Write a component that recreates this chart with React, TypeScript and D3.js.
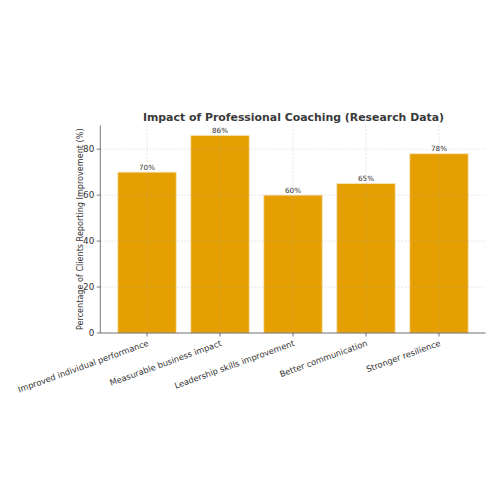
import React from "react";
import * as d3 from "d3";

const categories = [
  "Improved individual performance",
  "Measurable business impact",
  "Leadership skills improvement",
  "Better communication",
  "Stronger resilience",
];
const values = [70, 86, 60, 65, 78];
const yTicks = [0, 20, 40, 60, 80];
const title = "Impact of Professional Coaching (Research Data)";
const yLabel = "Percentage of Clients Reporting Improvement (%)";

export default function App() {
  const W = 500, H = 500;
  const left = 100.3, right = 485.7, top = 125.5, bottom = 333;
  const n = categories.length;
  const x = d3.scaleLinear().domain([-0.64, n - 1 + 0.64]).range([left, right]);
  const y = d3.scaleLinear().domain([0, 90.3]).range([bottom, top]);
  const bw = x(0.4) - x(-0.4);
  const font = "DejaVu Sans, sans-serif";
  const txt = "#333333";
  return (
    <svg width={W} height={H} style={{ position: "absolute", left: 0, top: 0, background: "#fff" }} fontFamily={font}>
      <rect x={0} y={0} width={W} height={H} fill="#fff" />
      {values.map((v, i) => (
        <rect key={i} x={x(i) - bw / 2} y={y(v)} width={bw} height={y(0) - y(v)} fill="#E69F00" stroke="#f7e3b8" strokeWidth={0.8} />
      ))}
      {/* grid */}
      {yTicks.map((t) => (
        <line key={"gy" + t} x1={left} x2={right} y1={y(t)} y2={y(t)} stroke="#b0b0b0" strokeOpacity={0.5} strokeWidth={0.6} strokeDasharray="2,1.5" />
      ))}
      {categories.map((c, i) => (
        <line key={"gx" + i} x1={x(i)} x2={x(i)} y1={top} y2={bottom} stroke="#b0b0b0" strokeOpacity={0.5} strokeWidth={0.6} strokeDasharray="2,1.5" />
      ))}
      {/* value labels */}
      {values.map((v, i) => (
        <text key={"v" + i} x={x(i)} y={y(v) - 2.5} textAnchor="middle" fontSize={7.2} fill={txt}>{v}%</text>
      ))}
      {/* spines */}
      <line x1={left} x2={left} y1={top} y2={bottom} stroke="#555" strokeWidth={0.8} />
      <line x1={left} x2={right} y1={bottom} y2={bottom} stroke="#555" strokeWidth={0.8} />
      {/* y ticks */}
      {yTicks.map((t) => (
        <g key={"yt" + t}>
          <line x1={left - 3.5} x2={left} y1={y(t)} y2={y(t)} stroke="#555" strokeWidth={0.8} />
          <text x={left - 6} y={y(t)} dy="0.35em" textAnchor="end" fontSize={8.8} fill={txt}>{t}</text>
        </g>
      ))}
      {/* x ticks */}
      {categories.map((c, i) => (
        <g key={"xt" + i}>
          <line x1={x(i)} x2={x(i)} y1={bottom} y2={bottom + 3.5} stroke="#555" strokeWidth={0.8} />
          <text transform={`translate(${x(i)},${bottom + 7}) rotate(-20)`} textAnchor="end" dy="0.7em" fontSize={8.3} fill={txt}>{c}</text>
        </g>
      ))}
      <text transform={`translate(83,${(top + bottom) / 2}) rotate(-90)`} textAnchor="middle" fontSize={8.1} fill={txt}>{yLabel}</text>
      <text x={(left + right) / 2 + 0.5} y={121} textAnchor="middle" fontSize={10.9} fontWeight="bold" fill="#3a3a3a">{title}</text>
    </svg>
  );
}
